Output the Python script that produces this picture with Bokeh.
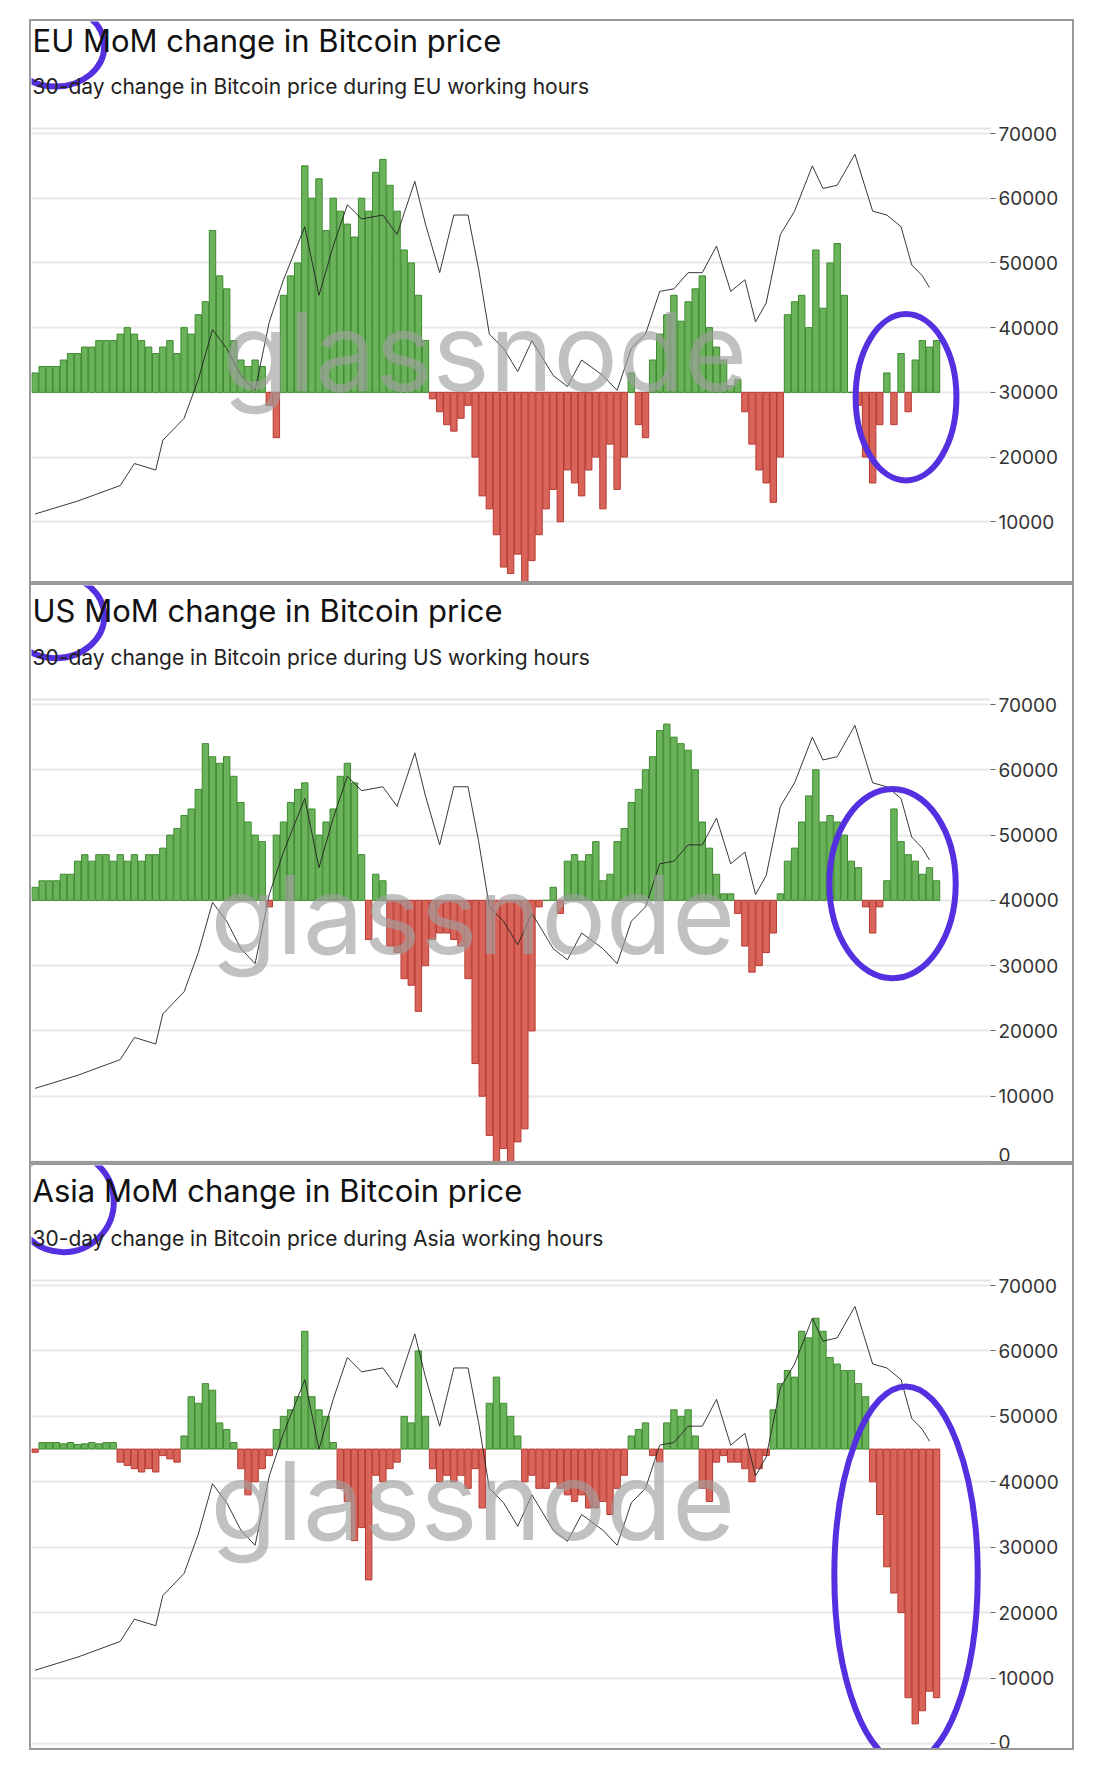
import numpy as np
from bokeh.plotting import figure
from bokeh.layouts import column, row
from bokeh.models import Range1d, FixedTicker, Label, Span, Spacer
from bokeh.embed import file_html
from bokeh.resources import INLINE

# ---------------- data ----------------
PRICE_DAY = [60,120,180,200,230,240,270,290,310,330,350,370,390,410,440,460,480,500,520,550,570,595,610,630,650,670,685,700,720,740,760,790,810,830,860,880,900,920,940,960,980,1000,1020,1040,1060,1075,1090,1110,1130,1155,1170,1190,1215,1240,1260,1280,1295,1310,1320]
PRICE = [11200,13200,15600,19000,18000,22600,26000,32000,39700,36800,32600,30300,40900,47400,55600,45000,52600,59000,56800,57400,54400,62600,56000,48500,57400,57400,49000,39000,36800,33200,38000,32600,30900,35000,32600,30300,36800,39000,45600,46000,48500,48500,52600,45600,47400,40900,43800,54400,58000,65000,61500,62000,66800,58000,57400,55600,49700,48000,46200]

BAR_START, BAR_STEP = 60, 10
# changes in thousands of USD (price-axis units) relative to each panel's baseline
EU_CHG = [3,4,4,4,5,6,6,7,7,8,8,8,9,10,9,8,7,6,7,8,6,10,9,12,14,25,18,16,8,5,4,5,4,-2,-7,15,18,20,35,30,33,25,30,28,26,24,30,28,34,36,32,28,22,20,15,8,-1,-3,-5,-6,-4,-2,-10,-16,-18,-22,-27,-28,-25,-30,-26,-22,-18,-15,-20,-12,-14,-16,-12,-10,-18,-8,-15,-10,3,-5,-7,5,9,12,15,11,14,16,18,10,7,5,1,2,-3,-8,-12,-14,-17,-10,12,14,15,10,22,13,20,23,15,0,-2,-10,-14,-5,3,-5,6,-3,5,8,7,8]
US_CHG = [2,3,3,3,4,4,6,7,6,7,7,6,7,6,7,6,7,7,8,10,11,13,14,17,24,22,21,22,19,15,12,10,9,-1,10,12,15,17,18,14,10,12,14,19,21,18,7,-6,4,3,-7,-8,-12,-13,-17,-10,-6,-5,-5,-6,-7,-12,-25,-30,-36,-40,-38,-40,-37,-35,-20,-1,0,2,-2,6,7,6,7,9,3,4,9,11,15,17,20,22,26,27,25,24,23,20,12,8,4,1,1,-2,-7,-11,-10,-8,-5,1,6,8,12,16,20,12,13,12,10,6,5,-1,-5,-1,3,14,9,7,6,4,5,3]
ASIA_CHG = [-0.5,1,1,1,0.8,1,0.7,0.8,1,0.8,1,1,-2,-2.5,-3,-3.5,-3,-3.5,-1,-1.5,-2,2,8,7,10,9,4,3,1,-3,-7,-5,-3,-1,3,5,6,8,18,8,6,5,1,-6,-8,-14,-12,-20,-4,-5,-3,-2,5,4,15,5,-3,-5,-4,-5,-4,-6,-3,-9,7,11,7,5,2,-5,-4,-6,-6,-5,-6,-7,-8,-7,-9,-9,-8,-10,-6,-4,2,3,4,-1,-2,4,6,5,6,2,-6,-8,-2,-1,-2,-2,-3,-5,-3,-1,6,10,12,11,18,17,20,18,14,13,12,12,10,8,-5,-10,-18,-22,-25,-38,-42,-40,-37,-38]

TICKS = [0,10000,20000,30000,40000,50000,60000,70000]

PANELS = [
    dict(region="EU", base=30000, chg=EU_CHG, H=564, t70=112, t0=565, title_off=19, sub_off=65, wm_x=181, wm_off=330,
         ell_x=[89,1287], ell_y=[83500,29240], ell_w=[137,142], ell_h=[12500,25700]),
    dict(region="US", base=40000, chg=US_CHG, H=580, t70=119, t0=576, title_off=25, sub_off=72, wm_x=169, wm_off=329,
         ell_x=[89,1268], ell_y=[83500,42560], ell_w=[137,178], ell_h=[12800,29020]),
    dict(region="Asia", base=45000, chg=ASIA_CHG, H=587, t70=120, t0=578, title_off=25, sub_off=73, wm_x=169, wm_off=335,
         ell_x=[100,1287], ell_y=[82800,25725], ell_w=[142,202], ell_h=[15400,57750]),
]

W = 1045
RIGHT = 86
FONT = "Inter"

def make_panel(cfg):
    H = cfg["H"]
    u = 70000 / (cfg["t0"] - cfg["t70"])
    y_end = 70000 + cfg["t70"] * u
    y_start = -(H - cfg["t0"]) * u
    p = figure(width=W, height=H, output_backend="svg", toolbar_location=None,
               x_range=Range1d(55, 1406), y_range=Range1d(y_start, y_end),
               x_axis_location=None, y_axis_location="right",
               min_border_left=0, min_border_right=RIGHT, min_border_top=0, min_border_bottom=0)
    p.styles = {"border": "2px solid #9a9a9a"}
    p.outline_line_color = None
    p.background_fill_color = "white"
    p.xgrid.visible = False
    p.ygrid.grid_line_color = "#e8e8e8"
    p.ygrid.grid_line_width = 2
    ax = p.yaxis[0]
    ax.ticker = FixedTicker(ticks=TICKS)
    ax.axis_line_color = None
    ax.major_tick_in = 0
    ax.major_tick_out = 5
    ax.major_tick_line_color = "#666666"
    ax.minor_tick_line_color = None
    ax.major_label_text_font = FONT
    ax.major_label_text_font_size = "19px"
    ax.major_label_text_color = "#333333"
    ax.major_label_standoff = 3

    p.add_layout(Span(location=70000 + 5 * u, dimension="width", line_color="#e3e3e3", line_width=2))

    chg = np.array(cfg["chg"], dtype=float) * 1000
    days = BAR_START + BAR_STEP * np.arange(len(chg))
    base = cfg["base"]
    pos = chg >= 0
    p.vbar(x=days[pos], bottom=base, top=base + chg[pos], width=9,
           fill_color="#6bb35a", line_color="#3e8a30", line_width=1)
    p.vbar(x=days[~pos], bottom=base + chg[~pos], top=base, width=9,
           fill_color="#d9645a", line_color="#b83a32", line_width=1)
    p.line(PRICE_DAY, PRICE, line_color="#222222", line_width=0.9)

    p.add_layout(Label(x=cfg["wm_x"] + 10, y=H - cfg["wm_off"], x_units="screen", y_units="screen",
                       text="glassnode", text_font=FONT, text_font_size="108px", text_font_style="normal",
                       text_color="#a0a0a0", text_alpha=0.65, text_baseline="middle"))
    p.add_layout(Label(x=1, y=H - cfg["title_off"], x_units="screen", y_units="screen",
                       text=f"{cfg['region']} MoM change in Bitcoin price", text_font=FONT,
                       text_font_size="31px", text_color="#111111", text_baseline="middle"))
    p.add_layout(Label(x=1, y=H - cfg["sub_off"], x_units="screen", y_units="screen",
                       text=f"30-day change in Bitcoin price during {cfg['region']} working hours", text_font=FONT,
                       text_font_size="21px", text_color="#222222", text_baseline="middle"))

    p.ellipse(x=cfg["ell_x"], y=cfg["ell_y"], width=cfg["ell_w"], height=cfg["ell_h"],
              fill_color=None, line_color="#5530e0", line_width=6)
    return p

panels = column(*[make_panel(c) for c in PANELS], spacing=0)
layout = column(Spacer(height=19), row(Spacer(width=29), panels, spacing=0), spacing=0)
open("out.html", "w").write(file_html(layout, INLINE))
